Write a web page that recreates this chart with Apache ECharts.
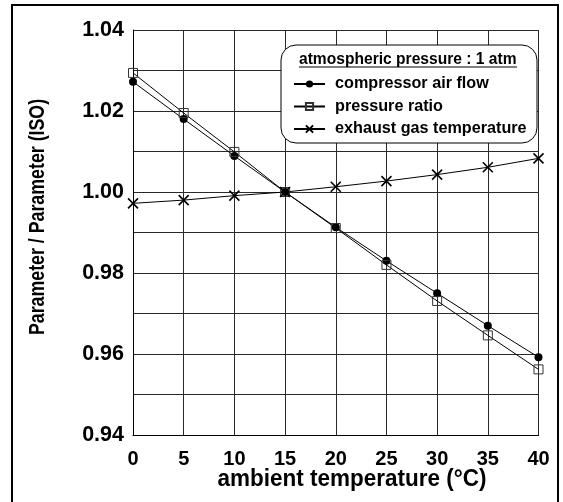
<!DOCTYPE html>
<html>
<head>
<meta charset="utf-8">
<script src="https://cdn.jsdelivr.net/npm/echarts@6/dist/echarts.min.js"></script>
<style>
  html, body { margin: 0; padding: 0; background: #fff; }
  #chart { width: 563px; height: 502px; }
</style>
</head>
<body>
<div id="chart"></div>
<script>
// Ambient temperature (°C)
const temperatures = [0, 5, 10, 15, 20, 25, 30, 35, 40];
// Normalised parameters (value / value at ISO conditions)
const compressorAirFlow = [1.0272, 1.0180, 1.0089, 1.0000, 0.9913, 0.9830, 0.9750, 0.9670, 0.9592];
const pressureRatio = [1.0294, 1.0195, 1.0099, 1.0000, 0.9911, 0.9820, 0.9731, 0.9646, 0.9562];
const exhaustGasTemperature = [0.9972, 0.9980, 0.9991, 1.0000, 1.0013, 1.0027, 1.0043, 1.0061, 1.0083];

const seriesNames = ['compressor air flow', 'pressure ratio', 'exhaust gas temperature'];
const legendTitle = 'atmospheric pressure : 1 atm';
const xTitle = 'ambient temperature (°C)';
const yTitle = 'Parameter / Parameter (ISO)';

const FONT = 'Liberation Sans, Arial, sans-serif';

function pairs(values) {
  return temperatures.map((t, i) => [t, values[i]]);
}

const chart = echarts.init(document.getElementById('chart'), null, { renderer: 'canvas' });

const crossPath = 'path://M0,0L10,10M10,0L0,10';

chart.setOption({
  animation: false,
  backgroundColor: '#fff',
  grid: { left: 133, right: 24.5, top: 30, bottom: 67, containLabel: false },
  xAxis: {
    type: 'value',
    min: 0, max: 40, interval: 5,
    axisLine: { show: true, lineStyle: { color: '#000', width: 1 } },
    axisTick: { show: false },
    axisLabel: { color: '#000', fontFamily: FONT, fontWeight: 'bold', fontSize: 20, margin: 14 },
    splitLine: { show: true, lineStyle: { color: '#2a2a2a', width: 1 } }
  },
  yAxis: {
    type: 'value',
    min: 0.94, max: 1.04, interval: 0.01,
    axisLine: { show: true, lineStyle: { color: '#000', width: 1 } },
    axisTick: { show: false },
    axisLabel: {
      color: '#000', fontFamily: FONT, fontWeight: 'bold', fontSize: 21.5, margin: 9,
      formatter: v => (Math.round(v * 100) % 2 === 0 ? v.toFixed(2) : '')
    },
    splitLine: { show: true, lineStyle: { color: '#2a2a2a', width: 1 } }
  },
  legend: {
    orient: 'vertical',
    left: 281, top: 45,
    padding: [31, 10, 4, 12],
    itemWidth: 31, itemHeight: 9, itemGap: 6.5,
    z: 10,
    textStyle: { color: '#000', fontFamily: FONT, fontWeight: 'bold', fontSize: 16.2, lineHeight: 16, padding: [0, 0, 0, 5] },
    data: seriesNames
  },
  graphic: [
    {
      type: 'rect', z: 5, silent: true,
      shape: { x: 281, y: 45, width: 256, height: 98, r: 15 },
      style: { fill: '#fff', stroke: '#000', lineWidth: 1 }
    },
    {
      type: 'text', z: 11, silent: true,
      x: 299, y: 59, scaleY: 1.1,
      style: { text: legendTitle, fill: '#000', font: 'bold 15.6px ' + FONT, textAlign: 'left', textVerticalAlign: 'middle' }
    },
    {
      type: 'line', z: 11, silent: true,
      shape: { x1: 299, y1: 67, x2: 517, y2: 67 },
      style: { stroke: '#000', lineWidth: 1 }
    },
    {
      type: 'text', silent: true,
      x: 352, y: 479, scaleY: 1.08,
      style: { text: xTitle, fill: '#000', font: 'bold 22.5px ' + FONT, textAlign: 'center', textVerticalAlign: 'middle' }
    },
    {
      type: 'text', silent: true,
      x: 37.5, y: 217, rotation: Math.PI / 2, scaleY: 1.25,
      style: { text: yTitle, fill: '#000', font: 'bold 17.8px ' + FONT, textAlign: 'center', textVerticalAlign: 'middle' }
    },
    {
      type: 'rect', silent: true, z: 20,
      shape: { x: 12, y: 5, width: 546, height: 505 },
      style: { fill: 'none', stroke: '#000', lineWidth: 2 }
    }
  ],
  series: [
    {
      name: seriesNames[0], type: 'line', data: pairs(compressorAirFlow),
      symbol: 'circle', symbolSize: 8,
      lineStyle: { color: '#000', width: 1 },
      itemStyle: { color: '#000' }
    },
    {
      name: seriesNames[1], type: 'line', data: pairs(pressureRatio),
      symbol: 'rect', symbolSize: 9,
      lineStyle: { color: '#000', width: 1 },
      itemStyle: { color: 'rgba(255,255,255,0)', borderColor: '#333', borderWidth: 1 }
    },
    {
      name: seriesNames[2], type: 'line', data: pairs(exhaustGasTemperature),
      symbol: crossPath, symbolSize: 10,
      lineStyle: { color: '#000', width: 1 },
      itemStyle: { color: 'rgba(0,0,0,0)', borderColor: '#000', borderWidth: 1.6 }
    }
  ]
});
</script>
</body>
</html>
